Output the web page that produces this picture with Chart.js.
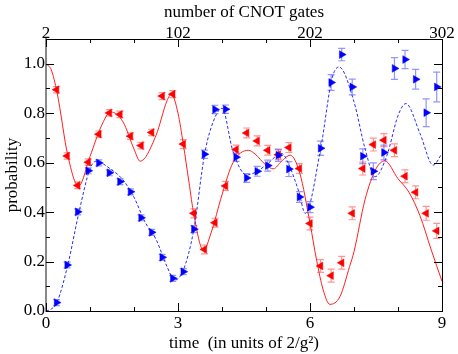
<!DOCTYPE html>
<html><head><meta charset="utf-8">
<script src="https://cdn.jsdelivr.net/npm/chart.js@4/dist/chart.umd.min.js"></script>
<style>html,body{margin:0;padding:0;background:#fff}#wrap{width:458px;height:354px;position:relative}</style>
</head><body><div id="wrap"><canvas id="c"></canvas></div>
<script>
// ---- data ----
const pointTimes = [0.24,0.48,0.72,0.96,1.20,1.44,1.68,1.92,2.16,2.40,2.64,2.88,3.12,3.36,3.60,3.84,4.08,4.32,4.56,4.80,5.04,5.28,5.52,5.76,6.00,6.24,6.48,6.72,6.96,7.20,7.44,7.68,7.92,8.16,8.40,8.64,8.88];
const redPoints = [0.895,0.627,0.508,0.602,0.715,0.801,0.795,0.707,0.669,0.722,0.869,0.877,0.675,0.395,0.249,0.357,0.506,0.653,0.720,0.688,0.650,0.632,0.661,0.576,0.354,0.182,0.143,0.195,0.395,0.576,0.673,0.691,0.650,0.545,0.480,0.395,0.324];
const redErrors = [0.013,0.013,0.013,0.013,0.013,0.013,0.013,0.013,0.013,0.013,0.014,0.014,0.018,0.018,0.018,0.018,0.018,0.018,0.020,0.020,0.020,0.020,0.020,0.020,0.026,0.026,0.026,0.026,0.026,0.026,0.026,0.026,0.026,0.026,0.026,0.028,0.030];
const bluePoints = [0.034,0.186,0.401,0.567,0.599,0.559,0.523,0.482,0.377,0.318,0.217,0.132,0.159,0.331,0.634,0.815,0.816,0.622,0.538,0.565,0.588,0.630,0.574,0.461,0.420,0.658,0.924,1.037,0.906,0.626,0.565,0.641,0.981,1.017,0.937,0.802,0.906];
const blueErrors = [0.012,0.012,0.012,0.012,0.012,0.012,0.012,0.012,0.012,0.012,0.012,0.012,0.012,0.014,0.017,0.017,0.017,0.017,0.018,0.020,0.022,0.025,0.030,0.022,0.022,0.029,0.032,0.025,0.032,0.030,0.034,0.030,0.044,0.037,0.040,0.056,0.060];

const redCurveT = [0,0.12,0.25,0.5,0.74,1.0,1.25,1.47,1.75,2.0,2.14,2.5,2.75,2.85,3.0,3.12,3.25,3.36,3.58,3.75,4.0,4.25,4.6,4.75,5.0,5.17,5.35,5.55,5.77,6.0,6.15,6.3,6.45,6.68,6.9,7.0,7.25,7.5,7.7,8.0,8.25,8.5,8.75,9.0];
const redCurveP = [1.0,0.975,0.885,0.625,0.505,0.625,0.745,0.805,0.765,0.655,0.606,0.71,0.85,0.877,0.80,0.675,0.52,0.39,0.245,0.315,0.47,0.60,0.650,0.635,0.59,0.575,0.605,0.630,0.556,0.355,0.206,0.085,0.027,0.058,0.18,0.24,0.45,0.575,0.607,0.535,0.48,0.385,0.25,0.12];
const blueCurveT = [0,0.12,0.25,0.5,0.75,1.0,1.13,1.5,1.75,2.0,2.25,2.5,2.75,2.92,3.12,3.36,3.6,3.75,4.0,4.25,4.56,4.75,5.0,5.36,5.5,5.75,5.89,6.25,6.5,6.66,7.0,7.25,7.48,7.75,8.0,8.18,8.5,8.8,9.0];
const blueCurveP = [0.0,0.008,0.035,0.19,0.40,0.575,0.605,0.57,0.53,0.46,0.36,0.29,0.18,0.125,0.165,0.33,0.63,0.74,0.82,0.645,0.55,0.56,0.59,0.637,0.60,0.48,0.395,0.665,0.94,0.987,0.846,0.657,0.543,0.63,0.79,0.839,0.718,0.59,0.637];

const xTickValues = [0,3,6,9];
const topTickValues = [2,102,202,302];
const yTickValues = [0,0.2,0.4,0.6,0.8,1.0];
const xMinorTicks = [0,1,2,3,4,5,6,7,8,9];
const yMinorTicks = [0,0.1,0.2,0.3,0.4,0.5,0.6,0.7,0.8,0.9,1.0,1.1];

const FONT = {family:'"Liberation Serif","Times New Roman",serif', size:17};

const toXY = (ts, vs) => ts.map((t,i)=>({x:t, y:vs[i]}));

const errorBars = {
  id:'errorBars',
  beforeDatasetsDraw(chart){
    const {ctx, scales:{x,y}} = chart;
    const sets = [[redPoints, redErrors, 'rgba(255,60,60,0.55)'],[bluePoints, blueErrors, 'rgba(60,60,255,0.55)']];
    ctx.save();
    ctx.lineWidth = 1.2;
    for (const [vals, errs, col] of sets){
      ctx.strokeStyle = col;
      vals.forEach((v,i)=>{
        const px = x.getPixelForValue(pointTimes[i]);
        const p1 = y.getPixelForValue(v - errs[i]);
        const p2 = y.getPixelForValue(v + errs[i]);
        ctx.beginPath();
        ctx.moveTo(px, p1); ctx.lineTo(px, p2);
        ctx.moveTo(px-3.5, p1); ctx.lineTo(px+3.5, p1);
        ctx.moveTo(px-3.5, p2); ctx.lineTo(px+3.5, p2);
        ctx.stroke();
      });
    }
    ctx.restore();
  }
};

const inwardTicks = {
  id:'inwardTicks',
  afterDraw(chart){
    const {ctx, chartArea:a, scales:{x,y}} = chart;
    ctx.save();
    ctx.strokeStyle = '#000'; ctx.lineWidth = 1;
    ctx.beginPath();
    xMinorTicks.forEach(v=>{
      const px = Math.round(x.getPixelForValue(v)) + 0.5;
      const L = xTickValues.includes(v) ? 8 : 4;
      ctx.moveTo(px, a.bottom); ctx.lineTo(px, a.bottom - L);
      ctx.moveTo(px, a.top); ctx.lineTo(px, a.top + L);
    });
    yMinorTicks.forEach((v,i)=>{
      const py = Math.round(y.getPixelForValue(v)) + 0.5;
      const L = (i % 2 === 0) ? 8 : 4;
      ctx.moveTo(a.left, py); ctx.lineTo(a.left + L, py);
      ctx.moveTo(a.right, py); ctx.lineTo(a.right - L, py);
    });
    ctx.stroke();
    ctx.restore();
  }
};

new Chart(document.getElementById('c'), {
  type:'scatter',
  data:{datasets:[
    {label:'red theory', data: toXY(redCurveT, redCurveP), showLine:true, borderColor:'rgb(255,30,30)', borderWidth:1, pointRadius:0, cubicInterpolationMode:'monotone', order:4},
    {label:'blue theory', data: toXY(blueCurveT, blueCurveP), showLine:true, borderColor:'rgb(40,40,255)', borderWidth:1, borderDash:[3,2], pointRadius:0, cubicInterpolationMode:'monotone', order:3},
    {label:'red data', data: toXY(pointTimes, redPoints), pointStyle:'triangle', rotation:-90, pointRadius:4.5, backgroundColor:'#ff0000', borderColor:'#ff0000', borderWidth:0.5, order:2},
    {label:'blue data', data: toXY(pointTimes, bluePoints), pointStyle:'triangle', rotation:90, pointRadius:4.5, backgroundColor:'#0000ff', borderColor:'#0000ff', borderWidth:0.5, order:1}
  ]},
  options:{
    responsive:true, maintainAspectRatio:false, animation:false,
    layout:{padding:0},
    plugins:{legend:{display:false}, tooltip:{enabled:false}},
    scales:{
      x:{type:'linear', position:'bottom', min:0, max:9,
        afterBuildTicks:s=>{s.ticks = xTickValues.map(v=>({value:v}));},
        afterFit:s=>{s.height = 43;},
        ticks:{font:FONT, color:'#000', padding:2, maxRotation:0, autoSkip:false},
        grid:{display:false, drawTicks:false},
        border:{display:true, color:'#000', width:1},
        title:{display:true, text:'time  (in units of 2/g²)', font:FONT, color:'#000', padding:{top:0,bottom:0}}
      },
      x2:{type:'linear', position:'top', min:2, max:302,
        afterBuildTicks:s=>{s.ticks = topTickValues.map(v=>({value:v}));},
        afterFit:s=>{s.height = 39;},
        ticks:{font:FONT, color:'#000', padding:-5, maxRotation:0, autoSkip:false},
        grid:{display:false, drawTicks:false},
        border:{display:true, color:'#000', width:1},
        title:{display:true, text:'number of CNOT gates', font:FONT, color:'#000', padding:{top:2,bottom:0}}
      },
      y:{type:'linear', position:'left', min:0, max:1.1,
        afterBuildTicks:s=>{s.ticks = yTickValues.map(v=>({value:v}));},
        afterFit:s=>{s.width = 46;},
        ticks:{font:FONT, color:'#000', padding:1, callback:v=>Number(v).toFixed(1)},
        grid:{display:false, drawTicks:false},
        border:{display:true, color:'#888', width:2},
        title:{display:true, text:'probability', font:FONT, color:'#000', padding:{top:2,bottom:0}}
      },
      y2:{type:'linear', position:'right', min:0, max:1.1,
        afterFit:s=>{s.width = 16;},
        ticks:{display:false},
        grid:{display:false, drawTicks:false},
        border:{display:true, color:'#000', width:1}
      }
    }
  },
  plugins:[errorBars, inwardTicks]
});
</script></body></html>
